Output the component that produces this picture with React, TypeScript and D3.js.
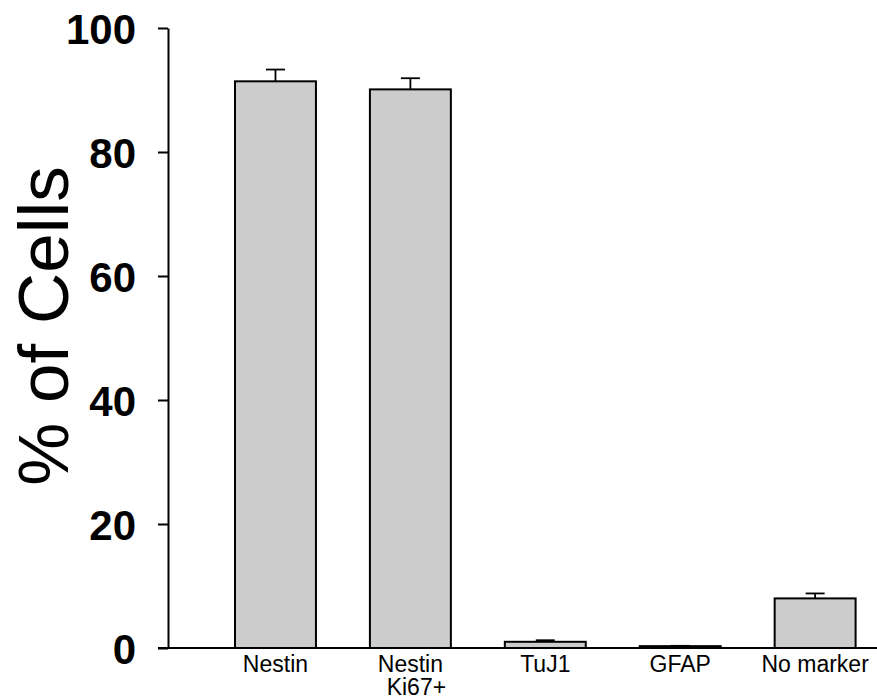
import React, { useEffect, useRef } from 'react';
import * as d3 from 'd3';

// values (% of cells, mean and upper SE)
const categories = ['Nestin', 'Nestin|Ki67+', 'TuJ1', 'GFAP', 'No marker'];
const means = [91.4, 90.1, 1.0, 0.3, 8.0];
const errors = [1.9, 1.8, 0.25, 0.05, 0.8];
const yTicks = [0, 20, 40, 60, 80, 100];

const FONT = "Arial, 'Liberation Sans', sans-serif";

const App: React.FC = () => {
  const svgRef = useRef<SVGSVGElement>(null);

  useEffect(() => {
    if (!svgRef.current) return;
    const width = 877;
    const height = 700;
    const axisX = 168;

    const svg = d3.select(svgRef.current);
    svg.selectAll('*').remove();
    svg.attr('width', width).attr('height', height);

    const y = d3.scaleLinear().domain([0, 100]).range([648, 28]);
    const x = d3.scaleBand<string>()
      .domain(categories)
      .range([235, 855.6])
      .paddingInner(0.4)
      .paddingOuter(0);

    const data = categories.map((c, i) => ({ c, v: means[i], e: errors[i] }));

    // Bars
    svg.selectAll('.bar')
      .data(data)
      .enter()
      .append('rect')
      .attr('class', 'bar')
      .attr('x', (d) => x(d.c)!)
      .attr('y', (d) => y(d.v))
      .attr('width', x.bandwidth())
      .attr('height', (d) => y(0) - y(d.v))
      .attr('fill', '#cccccc')
      .attr('stroke', '#000')
      .attr('stroke-width', 2);

    // Error bars (upper only)
    const err = svg.selectAll('.err')
      .data(data)
      .enter()
      .append('g')
      .attr('class', 'err')
      .attr('transform', (d) => `translate(${x(d.c)! + x.bandwidth() / 2},0)`)
      .attr('stroke', '#000')
      .attr('stroke-width', 1.8);

    err.append('line')
      .attr('x1', 0).attr('x2', 0)
      .attr('y1', (d) => y(d.v))
      .attr('y2', (d) => y(d.v + d.e));
    err.append('line')
      .attr('x1', -9.5).attr('x2', 9.5)
      .attr('y1', (d) => y(d.v + d.e))
      .attr('y2', (d) => y(d.v + d.e));

    // Y axis
    const yAxis = svg.append('g')
      .attr('transform', `translate(${axisX},0)`)
      .call(d3.axisLeft(y).tickValues(yTicks).tickSize(10).tickSizeOuter(0).tickPadding(22));
    yAxis.select('.domain').attr('stroke', '#000').attr('stroke-width', 2);
    yAxis.selectAll('.tick line').attr('stroke', '#000').attr('stroke-width', 2);
    yAxis.selectAll('.tick text')
      .attr('fill', '#000')
      .attr('dy', '0.36em')
      .style('font-family', FONT)
      .style('font-size', '42px')
      .style('font-weight', 'bold');

    // Baseline
    svg.append('line')
      .attr('x1', axisX - 10).attr('x2', width)
      .attr('y1', y(0)).attr('y2', y(0))
      .attr('stroke', '#000')
      .attr('stroke-width', 2);

    // Category labels
    const lbl = svg.selectAll('.cat')
      .data(categories)
      .enter()
      .append('text')
      .attr('class', 'cat')
      .attr('text-anchor', 'middle')
      .attr('y', 672)
      .style('font-family', FONT)
      .style('font-size', '23px')
      .attr('fill', '#000');
    lbl.each(function (c) {
      const parts = c.split('|');
      const cx = x(c)! + x.bandwidth() / 2;
      parts.forEach((p, i) => {
        d3.select(this).append('tspan')
          .attr('x', cx + (i > 0 ? 6 : 0))
          .attr('dy', i === 0 ? 0 : 23)
          .text(p);
      });
    });

    // Y title
    svg.append('text')
      .attr('transform', 'translate(68,326) rotate(-90)')
      .attr('text-anchor', 'middle')
      .style('font-family', FONT)
      .style('font-size', '71px')
      .attr('fill', '#000')
      .text('% of Cells');
  }, []);

  return (
    <svg ref={svgRef} style={{ position: 'absolute', left: 0, top: 0, background: '#fff' }} />
  );
};

export default App;
